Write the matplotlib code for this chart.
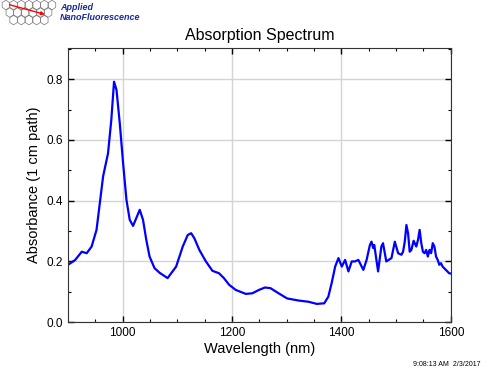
import numpy as np
import matplotlib
matplotlib.use("Agg")
import matplotlib.pyplot as plt
from matplotlib.patches import RegularPolygon
from matplotlib.ticker import MultipleLocator

plt.rcParams['font.family'] = ['Liberation Sans', 'DejaVu Sans']

# absorption spectrum
wavelength = [900, 913, 925, 934, 943, 952, 958, 964, 973, 979, 984, 988.5, 994.5,
              1000.6, 1006.7, 1012.7, 1018.8, 1024.8, 1031, 1037, 1043, 1049, 1058,
              1067, 1082, 1097.6, 1109.7, 1118.8, 1125, 1131, 1140, 1152, 1164, 1176,
              1185, 1194.5, 1206.7, 1225, 1237, 1249, 1260, 1270, 1285, 1300.6, 1322,
              1340, 1355, 1368.5, 1376, 1382, 1388.5, 1394.5, 1400.6, 1406.7, 1412.7,
              1418.8, 1424.8, 1430.9, 1440, 1446, 1452, 1455, 1458, 1460, 1467, 1473,
              1476, 1482, 1491.5, 1497.6, 1503.6, 1509.7, 1512.7, 1515.8, 1518.8,
              1521.8, 1524.8, 1527.9, 1532, 1536.9, 1540, 1543, 1546, 1549, 1552,
              1555, 1558, 1561, 1564, 1567, 1570, 1573, 1576, 1579, 1582, 1585, 1591,
              1597, 1600]
absorbance = [0.189, 0.205, 0.232, 0.227, 0.249, 0.304, 0.392, 0.48, 0.556, 0.666, 0.792,
              0.765, 0.655, 0.523, 0.403, 0.337, 0.317, 0.343, 0.37, 0.337, 0.271, 0.216,
              0.178, 0.163, 0.145, 0.183, 0.249, 0.287, 0.293, 0.276, 0.238, 0.2, 0.169,
              0.161, 0.145, 0.123, 0.106, 0.093, 0.095, 0.106, 0.114, 0.112, 0.095, 0.078,
              0.071, 0.067, 0.06, 0.062, 0.084, 0.128, 0.183, 0.211, 0.183, 0.205, 0.167,
              0.2, 0.2, 0.205, 0.172, 0.205, 0.254, 0.265, 0.244, 0.254, 0.167, 0.249,
              0.26, 0.2, 0.211, 0.265, 0.227, 0.222, 0.232, 0.265, 0.32, 0.293, 0.232,
              0.238, 0.268, 0.249, 0.271, 0.304, 0.26, 0.232, 0.227, 0.238, 0.216, 0.238,
              0.227, 0.26, 0.249, 0.216, 0.205, 0.189, 0.194, 0.183, 0.172, 0.161, 0.16]

fig = plt.figure(figsize=(4.9, 3.75), dpi=100)
ax = fig.add_axes([0.139, 0.141, 0.781, 0.731])

ax.plot(wavelength, absorbance, color='#0000ff', lw=1.6, solid_joinstyle='round')

ax.set_xlim(900, 1600)
ax.set_ylim(0, 0.903)
ax.xaxis.set_major_locator(MultipleLocator(200))
ax.xaxis.set_minor_locator(MultipleLocator(50))
ax.yaxis.set_major_locator(MultipleLocator(0.2))
ax.yaxis.set_minor_locator(MultipleLocator(0.1))
ax.yaxis.set_major_formatter(plt.FormatStrFormatter('%.1f'))
ax.tick_params(which='both', direction='in', top=True, right=True, labelsize=8.5)
ax.tick_params(which='major', length=4, width=1)
ax.tick_params(which='minor', length=2.5, width=0.8)
ax.grid(True, which='major', color='#d4d4d4', lw=1)
ax.set_axisbelow(True)
for s in ax.spines.values():
    s.set_color('#333333')

ax.set_xlabel('Wavelength (nm)', fontsize=10.5, labelpad=2)
ax.set_ylabel('Absorbance (1 cm path)', fontsize=10.5, labelpad=4)
ax.set_title('Absorption Spectrum', fontsize=11.5, pad=6)

# logo
lax = fig.add_axes([0.0, 0.925, 0.12, 0.075])
lax.set_xlim(0, 13)
lax.set_ylim(0, 5.6)
lax.axis('off')
for row in range(3):
    for col in range(7 - row):
        cx = 1 + col * 1.7 + row * 0.85 + 0.3
        cy = 4.6 - row * 1.5
        lax.add_patch(RegularPolygon((cx, cy), 6, radius=0.95, fill=False,
                                     ec='#777777', lw=0.5))
lax.annotate('', xy=(10.5, 2.6), xytext=(1.5, 4.8),
             arrowprops=dict(arrowstyle='-|>', color='red', lw=1, mutation_scale=5))
fig.text(0.122, 0.981, 'Applied', color='#1a2a9a', fontsize=6.5,
         fontweight='bold', style='italic', va='center')
fig.text(0.122, 0.952, 'NanoFluorescence', color='#1a2a9a', fontsize=6.5,
         fontweight='bold', style='italic', va='center')

fig.text(0.98, 0.027, '9:08:13 AM  2/3/2017', fontsize=5, ha='right', va='center')

fig.savefig('out.png', dpi=100)
